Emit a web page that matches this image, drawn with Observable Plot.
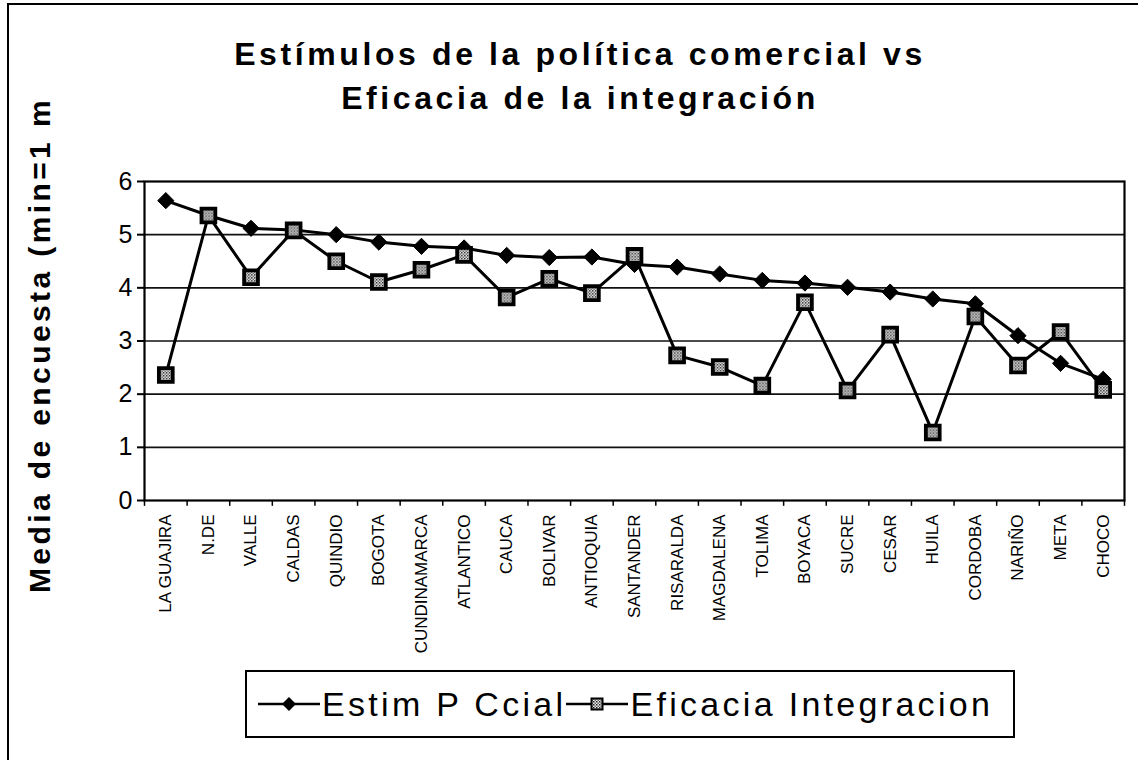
<!DOCTYPE html>
<html><head><meta charset="utf-8">
<script src="https://cdn.jsdelivr.net/npm/d3@7"></script>
<script src="https://cdn.jsdelivr.net/npm/@observablehq/plot@0.6"></script>
<style>
body{margin:0;background:#fff;}
#wrap{position:relative;width:1138px;height:760px;overflow:hidden;font-family:"Liberation Sans",Arial,sans-serif;color:#000;}
#wrap svg.plot{position:absolute;left:0;top:0;}
#border{position:absolute;left:7px;top:3px;width:1200px;height:800px;border-left:2px solid #000;border-top:2px solid #000;}
#title{position:absolute;left:0;top:32px;width:1160px;text-align:center;font-weight:bold;font-size:32px;line-height:44px;letter-spacing:3.6px;}
#ylabel{position:absolute;left:40px;top:345px;transform:translate(-50%,-50%) rotate(-90deg);white-space:nowrap;font-weight:bold;font-size:30px;letter-spacing:3.4px;}
#legend{position:absolute;left:245px;top:670px;width:770px;height:68px;border:2px solid #000;display:flex;align-items:center;padding-left:11px;box-sizing:border-box;font-size:34px;letter-spacing:3.3px;}
#legend .item{display:flex;align-items:center;}
#legend svg{margin-right:2px;}
</style></head><body><div id="wrap"><div id="border"></div></div>
<script>
const regions = ["LA GUAJIRA","N.DE","VALLE","CALDAS","QUINDIO","BOGOTA","CUNDINAMARCA","ATLANTICO","CAUCA","BOLIVAR","ANTIOQUIA","SANTANDER","RISARALDA","MAGDALENA","TOLIMA","BOYACA","SUCRE","CESAR","HUILA","CORDOBA","NARIÑO","META","CHOCO"];
const estim = [5.64,5.36,5.12,5.09,5.00,4.86,4.78,4.75,4.61,4.57,4.58,4.44,4.39,4.26,4.14,4.09,4.01,3.92,3.79,3.70,3.10,2.58,2.28];
const eficacia = [2.36,5.36,4.20,5.08,4.50,4.11,4.34,4.62,3.82,4.17,3.90,4.60,2.73,2.51,2.16,3.73,2.07,3.12,1.28,3.46,2.54,3.17,2.08];
const yTicks = [0,1,2,3,4,5,6];
const seriesNames = ["Estim P Ccial","Eficacia Integracion"];
const titleLines = ["Estímulos de la política comercial vs","Eficacia de la integración"];
const yLabel = "Media de encuesta (min=1 m";

const W = 1138, H = 760, mL = 144, mR = 14, mT = 181, mB = 260;
const step = (W - mL - mR) / regions.length;
const rows = regions.map((r, i) => ({region: r, estim: estim[i], eficacia: eficacia[i]}));

const chart = Plot.plot({
  width: W, height: H, marginTop: mT, marginBottom: mB, marginLeft: mL, marginRight: mR,
  style: {fontFamily: "Liberation Sans, Arial, sans-serif", color: "#000", background: "transparent", overflow: "visible"},
  x: {type: "point", domain: regions, padding: 0.5, round: false, label: null},
  y: {domain: [0, 6], label: null},
  marks: [
    Plot.ruleY(yTicks.slice(1, -1), {stroke: "#111", strokeWidth: 1.6}),
    Plot.frame({stroke: "#000", strokeWidth: 2.2}),
    Plot.axisY({ticks: yTicks, tickSize: 7, tickPadding: 5, fontSize: 25, tickFormat: d => String(d), label: null, strokeWidth: 2}),
    Plot.axisX({tickRotate: -90, tickSize: 0, tickPadding: 14, fontSize: 17, label: null}),
    Plot.ruleX(regions, {x: d => d, y1: 0, y2: -0.11, dx: -step / 2, stroke: "#000", strokeWidth: 1.5}),
    Plot.ruleX(regions.slice(-1), {x: d => d, y1: 0, y2: -0.11, dx: step / 2, stroke: "#000", strokeWidth: 1.5}),
    Plot.line(rows, {x: "region", y: "estim", stroke: "#000", strokeWidth: 3}),
    Plot.dot(rows, {x: "region", y: "estim", symbol: "diamond2", r: 7.3, fill: "#000", stroke: "#000", strokeWidth: 1}),
    Plot.line(rows, {x: "region", y: "eficacia", stroke: "#000", strokeWidth: 3}),
    Plot.dot(rows, {x: "region", y: "eficacia", symbol: "square", r: 7.8, fill: "url(#hatch)", stroke: "#000", strokeWidth: 3.8})
  ]
});
chart.classList.add("plot");

// hatch pattern for square markers
const defs = d3.select(chart).insert("defs", ":first-child");
const pat = defs.append("pattern").attr("id", "hatch").attr("patternUnits", "userSpaceOnUse").attr("width", 3).attr("height", 3);
pat.append("rect").attr("width", 3).attr("height", 3).attr("fill", "#eee");
pat.append("rect").attr("width", 1.5).attr("height", 1.5).attr("fill", "#222");
pat.append("rect").attr("x", 1.5).attr("y", 1.5).attr("width", 1.5).attr("height", 1.5).attr("fill", "#666");

const wrap = document.getElementById("wrap");
wrap.appendChild(chart);

const title = document.createElement("div");
title.id = "title";
title.innerHTML = titleLines.join("<br>");
wrap.appendChild(title);

const yl = document.createElement("div");
yl.id = "ylabel";
yl.textContent = yLabel;
wrap.appendChild(yl);

const legend = document.createElement("div");
legend.id = "legend";
const symSvg = [
  '<svg width="62" height="24"><line x1="0" y1="12" x2="62" y2="12" stroke="#000" stroke-width="2.5"/><path d="M31 5 L38 12 L31 19 L24 12 Z" fill="#000"/></svg>',
  '<svg width="62" height="24"><defs><pattern id="hatch2" patternUnits="userSpaceOnUse" width="3" height="3"><rect width="3" height="3" fill="#eee"/><rect width="1.5" height="1.5" fill="#222"/><rect x="1.5" y="1.5" width="1.5" height="1.5" fill="#666"/></pattern></defs><line x1="0" y1="12" x2="62" y2="12" stroke="#000" stroke-width="2.5"/><rect x="25.5" y="6.5" width="11" height="11" fill="url(#hatch2)" stroke="#000" stroke-width="2"/></svg>'
];
seriesNames.forEach((name, i) => {
  const it = document.createElement("span");
  it.className = "item";
  it.innerHTML = symSvg[i] + "<span>" + name + "</span>";
  legend.appendChild(it);
});
wrap.appendChild(legend);
</script>
</body></html>
